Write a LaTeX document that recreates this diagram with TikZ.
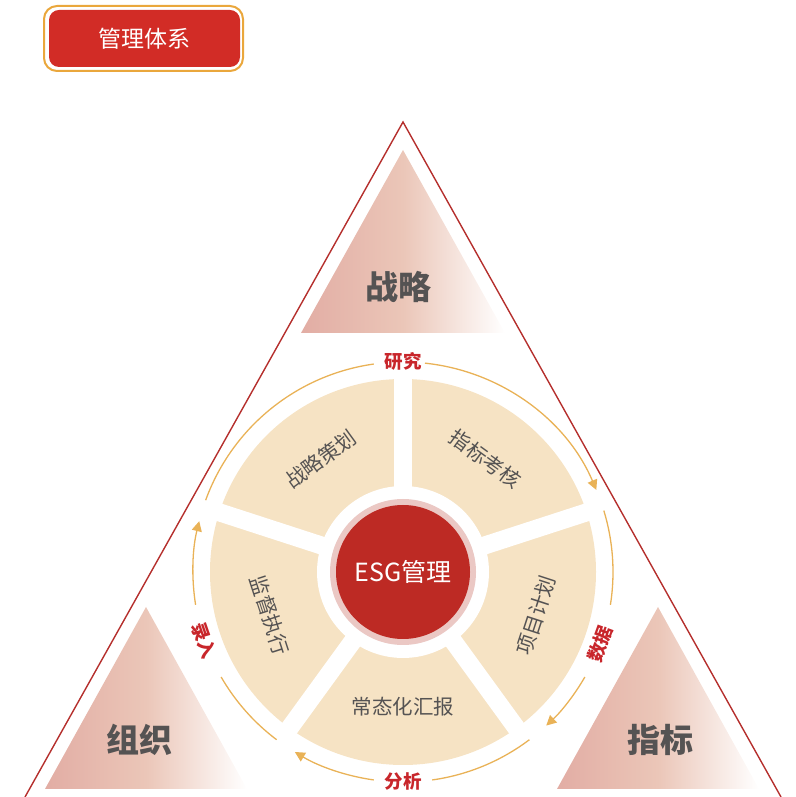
\documentclass[tikz,border=0pt]{standalone}
\usepackage{fontspec}
\newfontfamily\cjk{Noto Sans CJK SC}
\usetikzlibrary{arrows.meta}

\definecolor{framered}{HTML}{B52F2D}
\definecolor{titlered}{HTML}{D22C26}
\definecolor{titleorange}{HTML}{EAA73C}
\definecolor{esgred}{HTML}{BD2A24}
\definecolor{ringpink}{HTML}{EBC8C4}
\definecolor{beige}{HTML}{F6E3C4}
\definecolor{arcorange}{HTML}{E9B257}
\definecolor{labelred}{HTML}{C8262B}
\definecolor{textgray}{HTML}{555353}
\definecolor{pillarpink}{HTML}{E2ADA4}
\definecolor{pillarmid}{HTML}{EBC6B8}

\begin{document}
\begin{tikzpicture}[x=1pt,y=1pt,
    frame/.style={draw=framered, line width=1.4pt},
    pillarshade/.style={left color=pillarpink, right color=white, middle color=pillarmid},
    pillar/.style={font=\cjk\bfseries\fontsize{33}{33}\selectfont, text=textgray},
    sector/.style={font=\cjk\fontsize{20.5}{20.5}\selectfont, text=textgray, inner sep=0pt},
    flow/.style={draw=arcorange, line width=1.3pt},
    flowtip/.style={flow, -{Triangle[length=10pt,width=10pt]}},
    flowlabel/.style={font=\cjk\bfseries\fontsize{18.5}{18.5}\selectfont, text=labelred, inner sep=0pt}]
    \useasboundingbox (0,0) rectangle (795,797);

    % title
    \draw[titleorange, line width=2pt, rounded corners=13pt] (44,726) rectangle (243,791);
    \fill[titlered, rounded corners=10pt] (49,730) rectangle (240,787);
    \node[text=white, font=\cjk\fontsize{23}{23}\selectfont] (title) at (144.5,758.5) {管理体系};

    % big triangle
    \coordinate (apex) at (403,675);
    \draw[frame] (25,0) -- (apex) -- (781,0);

    % pillars
    \shade[pillarshade] (403,647) -- (505,464) -- (301,464) -- cycle;
    \shade[pillarshade] (146,190) -- (247,8) -- (45,8) -- cycle;
    \shade[pillarshade] (658,190) -- (759,8) -- (557,8) -- cycle;
    \node[pillar] (strategy) at (398,510) {战略};
    \node[pillar] (organise) at (139,57) {组织};
    \node[pillar] (index) at (660,57) {指标};

    % wheel
    \coordinate (c) at (403,225);
    \fill[beige] (c) circle[radius=193];
    \foreach \a in {90,18,-54,-126,162}
        \draw[white, line width=18pt] (c) -- ++(\a:200);
    \fill[white] (c) circle[radius=86];
    \fill[ringpink] (c) circle[radius=73];
    \fill[esgred] (c) circle[radius=67];
    \node[text=white, font=\cjk\fontsize{25}{25}\selectfont] (esg) at (c) {ESG管理};

    \path (c) ++(126:140) node[sector, rotate=36] (plan) {战略策划};
    \path (c) ++(54:140) node[sector, rotate=-36] (assess) {指标考核};
    \path (c) ++(-18:140) node[sector, rotate=72] (project) {项目计划};
    \path (c) ++(-90:135) node[sector] (report) {常态化汇报};
    \path (c) ++(198:140) node[sector, rotate=-72] (supervise) {监督执行};

    % cycle
    \draw[flowtip] (c) ++(84:210) arc[start angle=84, end angle=23, radius=210];
    \draw[flow] (c) ++(17:210) arc[start angle=17, end angle=-9, radius=210];
    \draw[flowtip] (c) ++(-30:210) arc[start angle=-30, end angle=-47, radius=210];
    \draw[flow] (c) ++(-53:210) arc[start angle=-53, end angle=-82, radius=210];
    \draw[flowtip] (c) ++(-98:210) arc[start angle=-98, end angle=-121, radius=210];
    \draw[flow] (c) ++(-127:210) arc[start angle=-127, end angle=-150, radius=210];
    \draw[flowtip] (c) ++(-171:210) arc[start angle=-171, end angle=-194, radius=210];
    \draw[flow] (c) ++(160:210) arc[start angle=160, end angle=98, radius=210];

    \path (c) ++(90:211) node[flowlabel] (research) {研究};
    \path (c) ++(-20:210) node[flowlabel, rotate=70] (data) {数据};
    \path (c) ++(-90:209) node[flowlabel] (analyse) {分析};
    \path (c) ++(199:210) node[flowlabel, rotate=-71] (entry) {录入};
\end{tikzpicture}
\end{document}
